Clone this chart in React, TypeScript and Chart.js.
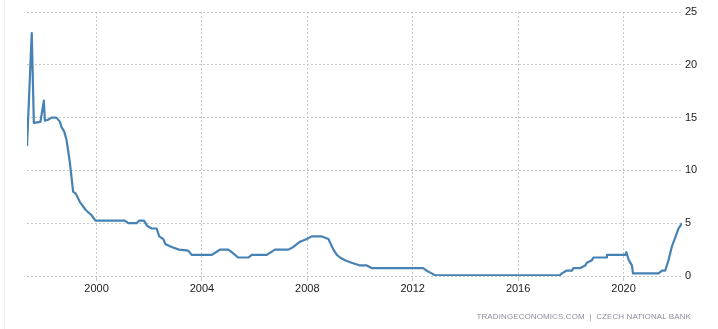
import React, { useEffect, useRef } from "react";
import { Chart, registerables } from "chart.js";

Chart.register(...registerables);

const years: number[] = [
  1997.36, 1997.54, 1997.62, 1997.87, 1998.0, 1998.04, 1998.16, 1998.29, 1998.48, 1998.61,
  1998.67, 1998.77, 1998.86, 1998.99, 1999.11, 1999.21, 1999.37, 1999.59, 1999.81, 1999.96,
  2001.07, 2001.2, 2001.52, 2001.62, 2001.8, 2001.92, 2002.09, 2002.28, 2002.38, 2002.53,
  2002.62, 2002.85, 2003.13, 2003.48, 2003.61, 2004.37, 2004.53, 2004.68, 2005.0, 2005.13,
  2005.38, 2005.76, 2005.89, 2006.46, 2006.77, 2007.28, 2007.47, 2007.72, 2007.98, 2008.17,
  2008.55, 2008.8, 2008.99, 2009.12, 2009.24, 2009.43, 2009.68, 2010.0, 2010.25, 2010.44,
  2012.4, 2012.53, 2012.72, 2012.85, 2017.57, 2017.66, 2017.83, 2018.04, 2018.1, 2018.36,
  2018.55, 2018.61, 2018.8, 2018.86, 2019.34, 2019.37, 2020.07, 2020.11, 2020.2, 2020.32,
  2020.36, 2021.33, 2021.46, 2021.58, 2021.71, 2021.83, 2021.98, 2022.09, 2022.22,
];

const rates: number[] = [
  12.3, 23.0, 14.5, 14.6, 16.6, 14.7, 14.8, 15.0, 15.0, 14.6,
  14.1, 13.7, 12.9, 10.7, 8.0, 7.8, 7.0, 6.25, 5.75, 5.25,
  5.25, 5.0, 5.0, 5.25, 5.25, 4.75, 4.5, 4.5, 3.75, 3.5,
  3.0, 2.75, 2.5, 2.4, 2.0, 2.0, 2.25, 2.5, 2.5, 2.25,
  1.75, 1.75, 2.0, 2.0, 2.5, 2.5, 2.75, 3.25, 3.5, 3.75,
  3.75, 3.5, 2.5, 2.0, 1.75, 1.5, 1.25, 1.0, 1.0, 0.75,
  0.75, 0.5, 0.25, 0.05, 0.05, 0.25, 0.5, 0.5, 0.75, 0.75,
  1.0, 1.25, 1.5, 1.75, 1.75, 2.0, 2.0, 2.25, 1.5, 1.0,
  0.25, 0.25, 0.5, 0.5, 1.5, 2.75, 3.75, 4.5, 5.0,
];

const xTicks: number[] = [2000, 2004, 2008, 2012, 2016, 2020];
const yTicks: number[] = [0, 5, 10, 15, 20, 25];
const sourceText = "TRADINGECONOMICS.COM  |  CZECH NATIONAL BANK";

const W = 718;
const H = 329;

export default function App() {
  const ref = useRef<HTMLCanvasElement | null>(null);

  useEffect(() => {
    if (!ref.current) return;
    const gridColor = "#c8c8c8";
    const tickFont = { family: "'Liberation Sans', Arial, sans-serif", size: 11 };
    const chart = new Chart(ref.current, {
      type: "line",
      data: {
        datasets: [
          {
            data: years.map((y, i) => ({ x: y, y: rates[i] })),
            borderColor: "#4682b4",
            borderWidth: 2.2,
            pointRadius: 0,
            tension: 0,
            fill: false,
            borderJoinStyle: "round",
          },
        ],
      },
      options: {
        animation: false,
        responsive: false,
        maintainAspectRatio: false,
        layout: { padding: { left: 27, top: 12, right: 0, bottom: 0 } },
        plugins: { legend: { display: false }, tooltip: { enabled: false } },
        scales: {
          x: {
            type: "linear",
            min: years[0],
            max: years[years.length - 1],
            afterBuildTicks: (s: any) => {
              s.ticks = xTicks.map((v) => ({ value: v }));
            },
            afterFit: (s: any) => {
              s.height = 53;
            },
            grid: { color: gridColor, drawTicks: true, tickLength: 5, lineWidth: 1 },
            border: { display: false, dash: [2, 2] },
            ticks: {
              padding: 1,
              color: "#222",
              font: tickFont,
              maxRotation: 0,
              callback: (v: any) => String(v),
            },
          },
          y: {
            type: "linear",
            position: "right",
            min: 0,
            max: 25,
            afterBuildTicks: (s: any) => {
              s.ticks = yTicks.map((v) => ({ value: v }));
            },
            afterFit: (s: any) => {
              s.width = 36;
            },
            grid: { color: gridColor, drawTicks: false, lineWidth: 1 },
            border: { display: false, dash: [2, 2] },
            ticks: { padding: 3, color: "#222", font: tickFont },
          },
        },
      },
    } as any);
    return () => chart.destroy();
  }, []);

  return (
    <div
      style={{
        position: "fixed",
        left: 0,
        top: 0,
        width: W,
        height: H,
        background: "#fff",
      }}
    >
      <div
        style={{
          position: "absolute",
          left: 4,
          top: 0,
          width: 1,
          height: H,
          background: "#f0f0f0",
        }}
      />
      <canvas ref={ref} width={W} height={H} style={{ position: "absolute", left: 0, top: 0 }} />
      <div
        style={{
          position: "absolute",
          right: 27,
          top: 312,
          fontFamily: "'Liberation Sans', Arial, sans-serif",
          fontSize: 8,
          color: "#8e8e9e",
          whiteSpace: "pre",
          letterSpacing: 0.1,
          lineHeight: "10px",
        }}
      >
        {sourceText}
      </div>
    </div>
  );
}
